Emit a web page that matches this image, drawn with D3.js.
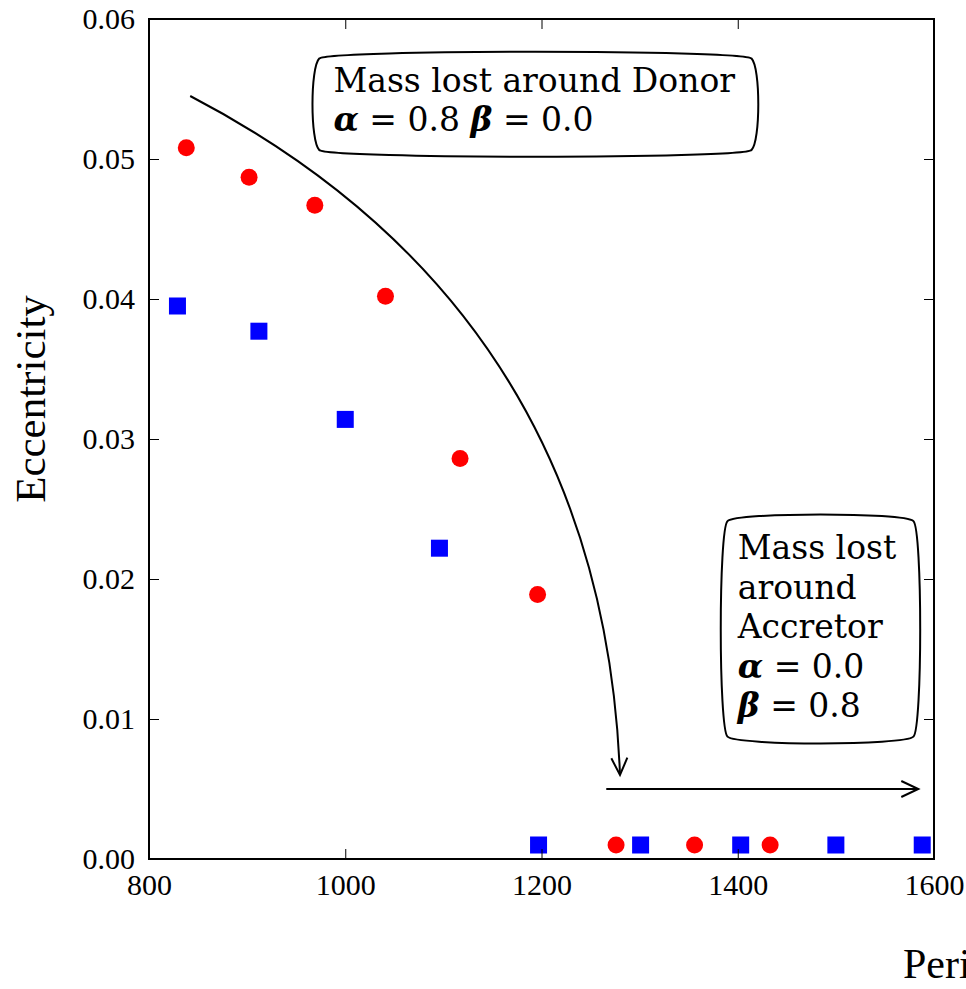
<!DOCTYPE html>
<html>
<head>
<meta charset="utf-8">
<script src="https://cdn.jsdelivr.net/npm/d3@7"></script>
<style>
  html, body { margin: 0; padding: 0; background: #fff; }
  svg { display: block; }
  text { font-family: "Liberation Serif", "Times New Roman", serif; fill: #000; }
</style>
</head>
<body>
<svg id="chart" width="966" height="989"></svg>
<script>
// ---- data ----
const periodDonor = [838, 902, 969, 1041, 1117, 1196, 1276, 1356, 1433];
const eccDonor    = [0.0508, 0.0487, 0.0467, 0.0402, 0.0286, 0.0189, 0.001, 0.001, 0.001];
const periodAccretor = [829, 912, 1000, 1096, 1197, 1301, 1403, 1500, 1588];
const eccAccretor    = [0.0395, 0.0377, 0.0314, 0.0222, 0.001, 0.001, 0.001, 0.001, 0.001];
const xTicks = [800, 1000, 1200, 1400, 1600];
const yTicks = [0, 0.01, 0.02, 0.03, 0.04, 0.05, 0.06];
const xLabel = "Period (days)";
const yLabel = "Eccentricity";
const donorLines = [[["Mass lost around Donor"]], [["α", true], [" = 0.8 "], ["β", true], [" = 0.0"]]];
const accretorLines = [[["Mass lost"]], [["around"]], [["Accretor"]], [["α", true], [" = 0.0"]], [["β", true], [" = 0.8"]]];
// annotation anchors in data coordinates
const curveFrom = [842, 0.0545], curveTo = [1280, 0.006], curveRad = 0.29;
const hArrowFrom = [1266, 0.005], hArrowTo = [1584, 0.005];
const donorTextAt = [988, 0.0548];
const accretorTextAt = [1400, 0.0214];

// ---- layout ----
const svg = d3.select("#chart");
const L = 149, R = 934, T = 19, B = 859;
const x = d3.scaleLinear().domain([800, 1600]).range([L, R]);
const y = d3.scaleLinear().domain([0, 0.06]).range([B, T]);

// markers
const g = svg.append("g");
g.selectAll("circle.donor").data(periodDonor.map((p, i) => [p, eccDonor[i]]))
  .enter().append("circle").attr("class", "donor")
  .attr("cx", d => x(d[0])).attr("cy", d => y(d[1])).attr("r", 8.5)
  .attr("fill", "#ff0000");
const S = 17;
g.selectAll("rect.acc").data(periodAccretor.map((p, i) => [p, eccAccretor[i]]))
  .enter().append("rect").attr("class", "acc")
  .attr("x", d => x(d[0]) - S / 2).attr("y", d => y(d[1]) - S / 2)
  .attr("width", S).attr("height", S).attr("fill", "#0000ff");

// axes (ticks inward on all sides)
const tickLen = 10;
const axB = d3.axisBottom(x).tickValues(xTicks).tickSizeInner(-tickLen).tickSizeOuter(0).tickPadding(15).tickFormat(d3.format("d"));
const axT = d3.axisTop(x).tickValues(xTicks).tickSizeInner(-tickLen).tickSizeOuter(0).tickFormat("");
const axL = d3.axisLeft(y).tickValues(yTicks).tickSizeInner(-tickLen).tickSizeOuter(0).tickPadding(14).tickFormat(d3.format(".2f"));
const axR = d3.axisRight(y).tickValues(yTicks).tickSizeInner(-tickLen).tickSizeOuter(0).tickFormat("");
function styleAxis(sel) {
  sel.attr("font-size", null).attr("font-family", null);
  sel.select(".domain").remove();
  sel.selectAll(".tick line").attr("stroke", "#000").attr("stroke-width", 1);
  sel.selectAll(".tick text").style("font-size", "30px").style("font-family", "'Liberation Serif', serif").attr("fill", "#000");
}
svg.append("g").attr("transform", `translate(0,${B})`).call(axB).call(styleAxis);
svg.append("g").attr("transform", `translate(0,${T})`).call(axT).call(styleAxis);
svg.append("g").attr("transform", `translate(${L},0)`).call(axL).call(styleAxis);
svg.append("g").attr("transform", `translate(${R},0)`).call(axR).call(styleAxis);

// frame
svg.append("rect").attr("x", L).attr("y", T).attr("width", R - L).attr("height", B - T)
  .attr("fill", "none").attr("stroke", "#000").attr("stroke-width", 2);

// axis labels
svg.append("text").attr("x", 903).attr("y", 978).style("font-size", "42px").text(xLabel);
svg.append("text").attr("transform", `translate(45,399) rotate(-90)`)
  .attr("text-anchor", "middle").style("font-size", "43px").text(yLabel);

// arrows
function openHead(tip, dir, len, half) {
  const n = Math.hypot(dir[0], dir[1]);
  const ux = dir[0] / n, uy = dir[1] / n;
  const bx = tip[0] - ux * len, by = tip[1] - uy * len;
  return `M${bx - uy * half},${by + ux * half}L${tip[0]},${tip[1]}L${bx + uy * half},${by - ux * half}`;
}
const p0 = [x(curveFrom[0]), y(curveFrom[1])];
const p2 = [x(curveTo[0]), y(curveTo[1])];
const mx = (p0[0] + p2[0]) / 2, my = (p0[1] + p2[1]) / 2;
const dx = p2[0] - p0[0], dy = p2[1] - p0[1];
const c = [mx + curveRad * dy, my - curveRad * dx];
const curvePath = d3.path();
curvePath.moveTo(p0[0], p0[1]);
curvePath.quadraticCurveTo(c[0], c[1], p2[0], p2[1]);
svg.append("path").attr("d", curvePath.toString()).attr("fill", "none").attr("stroke", "#000").attr("stroke-width", 2);
svg.append("path").attr("d", openHead(p2, [p2[0] - c[0], p2[1] - c[1]], 17, 8))
  .attr("fill", "none").attr("stroke", "#000").attr("stroke-width", 2);

const h0 = [x(hArrowFrom[0]), y(hArrowFrom[1])], h1 = [x(hArrowTo[0]), y(hArrowTo[1])];
svg.append("line").attr("x1", h0[0]).attr("y1", h0[1]).attr("x2", h1[0]).attr("y2", h1[1])
  .attr("stroke", "#000").attr("stroke-width", 2);
svg.append("path").attr("d", openHead(h1, [1, 0], 17, 8))
  .attr("fill", "none").attr("stroke", "#000").attr("stroke-width", 2);

// text boxes (matplotlib round4 style)
function round4(x0, y0, x1, y1, dr) {
  return `M${x0},${y0}` +
    `C${x0 + dr},${y0 - dr} ${x1 - dr},${y0 - dr} ${x1},${y0}` +
    `C${x1 + dr},${y0 + dr} ${x1 + dr},${y1 - dr} ${x1},${y1}` +
    `C${x1 - dr},${y1 + dr} ${x0 + dr},${y1 + dr} ${x0},${y1}` +
    `C${x0 - dr},${y1 - dr} ${x0 - dr},${y0 + dr} ${x0},${y0}Z`;
}
function textBox(lines, at, lineH, fontSize, pad) {
  const grp = svg.append("g");
  const boxPath = grp.append("path");
  const tx = x(at[0]), ty = y(at[1]);
  let minX = Infinity, minY = Infinity, maxX = -Infinity, maxY = -Infinity;
  lines.forEach((line, i) => {
    const t = grp.append("text").attr("x", tx).attr("y", ty + i * lineH)
      .style("font-family", "'DejaVu Serif', serif").style("font-size", fontSize + "px");
    line.forEach(part => {
      const ts = t.append("tspan").text(part[0]);
      if (part[1]) ts.style("font-style", "italic").style("font-weight", "bold");
    });
    const bb = t.node().getBBox();
    minX = Math.min(minX, bb.x); maxX = Math.max(maxX, bb.x + bb.width);
    minY = Math.min(minY, bb.y); maxY = Math.max(maxY, bb.y + bb.height);
  });
  const dr = 9, bulge = 0.75 * dr;
  const X0 = minX - pad.l + bulge, X1 = maxX + pad.r - bulge;
  const Y0 = minY - pad.t + bulge, Y1 = maxY + pad.b - bulge;
  boxPath.attr("d", round4(X0, Y0, X1, Y1, dr)).attr("fill", "#fff").attr("stroke", "#000").attr("stroke-width", 2);
}
textBox(donorLines, donorTextAt, 39, 33, {l: 21, r: 23, t: 9, b: 18});
textBox(accretorLines, accretorTextAt, 39.5, 33, {l: 15, r: 24, t: 14, b: 18});
</script>
</body>
</html>
